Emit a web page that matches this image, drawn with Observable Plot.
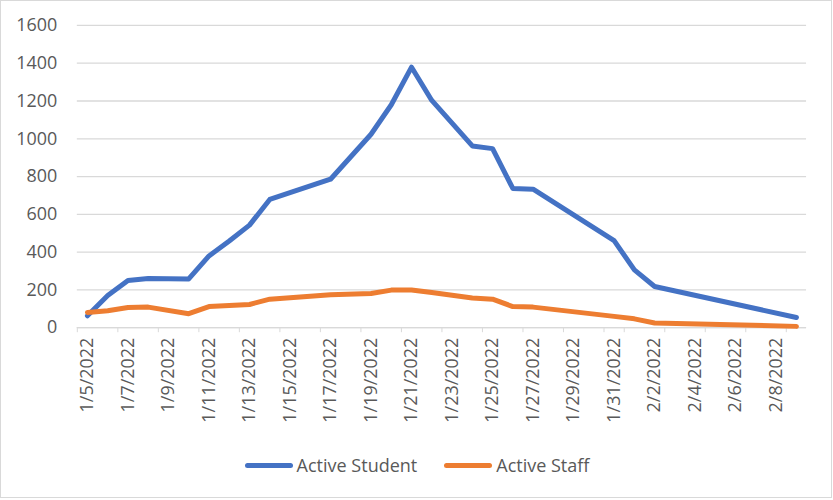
<!DOCTYPE html>
<html>
<head>
<meta charset="utf-8">
<script src="https://cdn.jsdelivr.net/npm/d3@7"></script>
<script src="https://cdn.jsdelivr.net/npm/@observablehq/plot@0.6"></script>
<style>
  body { margin: 0; background: #fff; }
  #wrap { position: relative; width: 832px; height: 498px; border: 1px solid #d9d9d9; box-sizing: border-box; background: #fff; overflow: hidden; }
  #chart { position: absolute; left: -1px; top: -1px; }
  #legend { position: absolute; left: 0; top: 452px; width: 832px; display: flex; justify-content: center; align-items: center; font-family: "Open Sans", sans-serif; font-size: 18px; color: #595959; }
  .item { display: flex; align-items: center; }
  .sw { width: 48px; height: 5px; border-radius: 3px; margin-right: 4px; }
</style>
</head>
<body>
<div id="wrap"><div id="chart"></div><div id="legend"></div></div>
<script>
// Dates with visible vertices
const dates = ["2022-01-05","2022-01-06","2022-01-07","2022-01-08","2022-01-10","2022-01-11","2022-01-12","2022-01-13","2022-01-14","2022-01-17","2022-01-19","2022-01-20","2022-01-21","2022-01-22","2022-01-24","2022-01-25","2022-01-26","2022-01-27","2022-01-31","2022-02-01","2022-02-02","2022-02-09"];
const activeStudent = [63,170,250,260,258,380,459,543,679,786,1024,1180,1379,1203,962,948,737,733,461,306,218,54];
const activeStaff = [81,90,107,109,74,112,117,123,151,174,181,199,200,186,157,151,112,109,60,47,25,7];
const seriesNames = ["Active Student", "Active Staff"];
const seriesColors = ["#4472C4", "#ED7D31"];
const yTicks = [0,200,400,600,800,1000,1200,1400,1600];
const labelDates = ["2022-01-05","2022-01-07","2022-01-09","2022-01-11","2022-01-13","2022-01-15","2022-01-17","2022-01-19","2022-01-21","2022-01-23","2022-01-25","2022-01-27","2022-01-29","2022-01-31","2022-02-02","2022-02-04","2022-02-06","2022-02-08"];
const xStart = "2022-01-05", xEnd = "2022-02-10";

const DAY = 864e5;
const day = s => new Date(s + "T00:00:00Z");
const mid = s => new Date(day(s).getTime() + DAY / 2);

const rows = [];
dates.forEach((d, i) => {
  rows.push({date: mid(d), value: activeStudent[i], series: seriesNames[0]});
  rows.push({date: mid(d), value: activeStaff[i], series: seriesNames[1]});
});

const tickMarks = d3.utcDay.every(2).range(day(xStart), new Date(day(xEnd).getTime() + 1));
const fmt = d => `${d.getUTCMonth() + 1}/${d.getUTCDate()}/${d.getUTCFullYear()}`;

const chart = Plot.plot({
  width: 833,
  height: 445,
  marginLeft: 77,
  marginRight: 25,
  marginTop: 25,
  marginBottom: 117,
  style: {fontFamily: "'Open Sans', sans-serif", fontSize: "18px", color: "#595959", background: "transparent"},
  x: {type: "utc", domain: [day(xStart), day(xEnd)]},
  y: {domain: [0, 1600]},
  color: {domain: seriesNames, range: seriesColors},
  marks: [
    Plot.gridY(yTicks, {stroke: "#d9d9d9", strokeOpacity: 1, strokeWidth: 1.3}),
    Plot.axisY(yTicks, {tickSize: 0, tickPadding: 20, tickFormat: d => String(d), label: null, fill: "#595959", fontSize: 18}),
    Plot.axisX(tickMarks, {tickSize: 5, stroke: "#d9d9d9", tickFormat: () => "", label: null}),
    Plot.axisX(labelDates.map(mid), {tickSize: 0, tickPadding: 10, tickRotate: -90, tickFormat: fmt, label: null, fill: "#595959", fontSize: 18}),
    Plot.ruleY([0], {stroke: "#d9d9d9", strokeWidth: 1.3}),
    Plot.line(rows, {x: "date", y: "value", z: "series", stroke: "series", strokeWidth: 5, strokeLinejoin: "round", strokeLinecap: "round"})
  ]
});
document.getElementById("chart").append(chart);

const legend = document.getElementById("legend");
seriesNames.forEach((name, i) => {
  const item = document.createElement("div");
  item.className = "item";
  if (i > 0) item.style.marginLeft = "27px";
  const sw = document.createElement("div");
  sw.className = "sw";
  sw.style.background = seriesColors[i];
  const t = document.createElement("span");
  t.textContent = name;
  item.append(sw, t);
  legend.append(item);
});
</script>
</body>
</html>
